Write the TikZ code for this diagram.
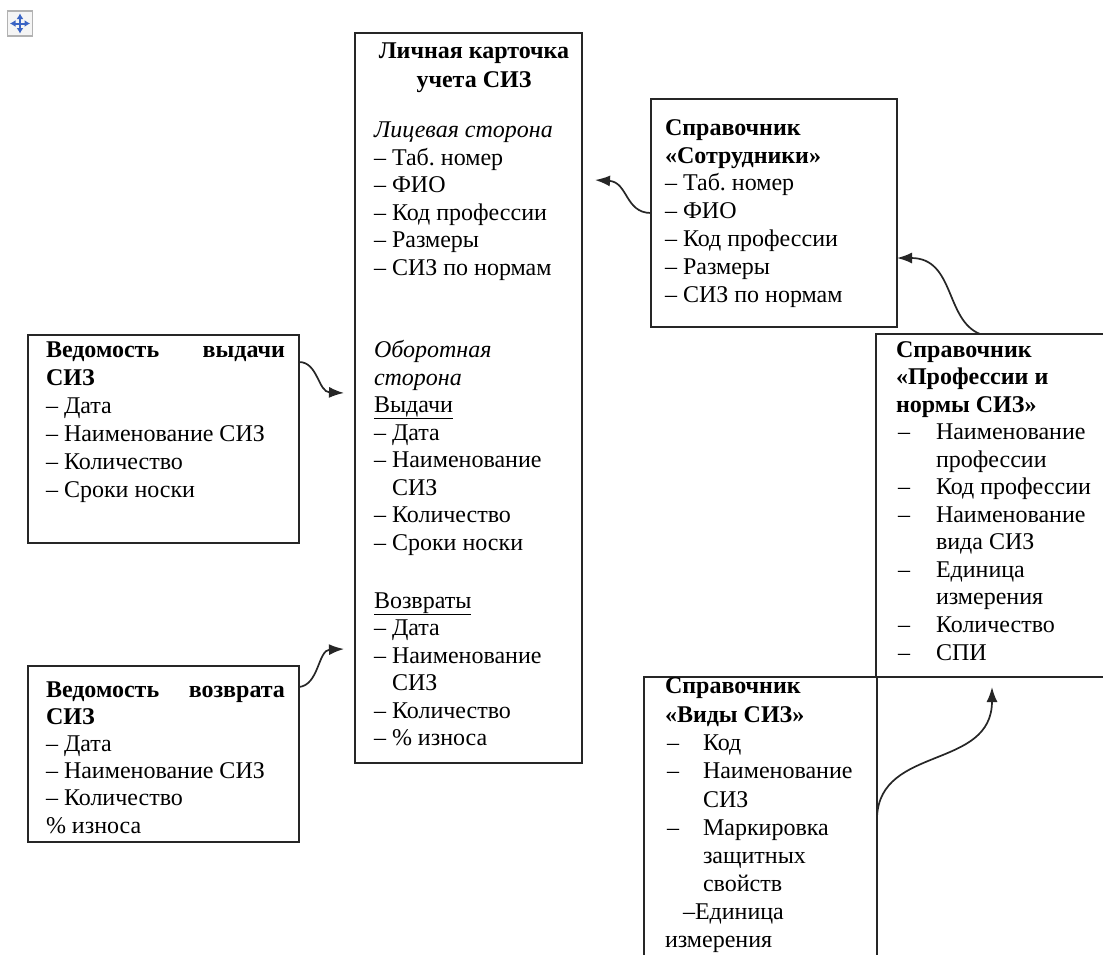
\documentclass[tikz,border=0pt]{standalone}
\usepackage{fontspec}
\setmainfont{Liberation Serif}
\usetikzlibrary{arrows.meta,calc}
\definecolor{iconblue}{RGB}{58,100,196}
\frenchspacing
\tikzset{
  box/.style={draw=black!85, line width=1.6pt, inner sep=0pt, outer sep=0pt},
  txt/.style={anchor=base west, inner sep=0pt, outer sep=0pt, font=\fontsize{24}{27.6}\selectfont},
  ttl/.style={txt, anchor=base, font=\fontsize{24}{27.6}\selectfont\bfseries},
  conn/.style={line width=1.7pt, black!85, -{Latex[length=15pt,width=11pt]}},
  iconarrow/.style={line width=2pt, iconblue, {Latex[length=5.5pt,width=7pt]}-{Latex[length=5.5pt,width=7pt]}}
}
\newcommand{\dd}[1]{\makebox[38pt][l]{–}#1}
\newcommand{\dv}[1]{\makebox[36pt][l]{–}#1}
\begin{document}
\begin{tikzpicture}[x=1pt,y=-1pt]
\useasboundingbox (0,0) rectangle (1103,954);
\clip (0,0) rectangle (1103,954);
\fill[white] (0,0) rectangle (1103,954);

% move icon
\node[draw=gray!60, fill=gray!8, line width=1.2pt, minimum size=25pt, inner sep=0pt] (icon) at (20,23.5) {};
\draw[iconarrow] ($(icon.center)+(-10,0)$) -- ($(icon.center)+(10,0)$);
\draw[iconarrow] ($(icon.center)+(0,-10)$) -- ($(icon.center)+(0,10)$);

% boxes
\node[box, minimum width=227pt, minimum height=730pt] (card) at (468.5,398) {};
\node[box, minimum width=246pt, minimum height=228pt] (sotr) at (774,213) {};
\node[box, minimum width=271pt, minimum height=208pt] (vyd) at (163.5,439) {};
\node[box, minimum width=271pt, minimum height=176pt] (vozv) at (163.5,754) {};
\node[box, minimum width=260pt, minimum height=343pt] (prof) at (1006,505.5) {};
\node[box, minimum width=233pt, minimum height=303pt] (vidy) at (760.5,828.5) {};

% card text
\node[ttl] (cardt1) at (474,58) {Личная карточка};
\node[ttl] (cardt2) at (474,87) {учета СИЗ};
\foreach \x/\y/\t [count=\i] in {
  374/137/{\itshape Лицевая сторона},
  374/165/{– Таб. номер},
  374/192/{– ФИО},
  374/220/{– Код профессии},
  374/247/{– Размеры},
  374/275/{– СИЗ по нормам},
  374/357/{\itshape Оборотная},
  374/385/{\itshape сторона},
  374/412/{\underline{Выдачи}},
  374/440/{– Дата},
  374/467/{– Наименование},
  392/495/{СИЗ},
  374/522/{– Количество},
  374/550/{– Сроки носки},
  374/608/{\underline{Возвраты}},
  374/635/{– Дата},
  374/663/{– Наименование},
  392/690/{СИЗ},
  374/718/{– Количество},
  374/745/{– \% износа}}
  \node[txt] (card-\i) at (\x,\y) {\t};

% Сотрудники
\foreach \y/\t [count=\i] in {
  135/{\bfseries Справочник},
  163/{\bfseries «Сотрудники»},
  190/{– Таб. номер},
  218/{– ФИО},
  246/{– Код профессии},
  274/{– Размеры},
  302/{– СИЗ по нормам}}
  \node[txt] (sotr-\i) at (665,\y) {\t};

% Ведомость выдачи
\foreach \y/\t [count=\i] in {
  357/{\bfseries\hbox to 239pt{Ведомость\hfill выдачи}},
  385/{\bfseries СИЗ},
  413/{– Дата},
  441/{– Наименование СИЗ},
  469/{– Количество},
  497/{– Сроки носки}}
  \node[txt] (vyd-\i) at (46,\y) {\t};

% Ведомость возврата
\foreach \y/\t [count=\i] in {
  697/{\bfseries\hbox to 239pt{Ведомость\hfill возврата}},
  724/{\bfseries СИЗ},
  751/{– Дата},
  778/{– Наименование СИЗ},
  805/{– Количество},
  833/{\% износа}}
  \node[txt] (vozv-\i) at (46,\y) {\t};

% Профессии и нормы СИЗ
\foreach \x/\y/\t [count=\i] in {
  896/357/{\bfseries Справочник},
  896/384/{\bfseries «Профессии и},
  896/412/{\bfseries нормы СИЗ»},
  898/439/{\dd{Наименование}},
  936/467/{профессии},
  898/494/{\dd{Код профессии}},
  898/522/{\dd{Наименование}},
  936/549/{вида СИЗ},
  898/577/{\dd{Единица}},
  936/604/{измерения},
  898/632/{\dd{Количество}},
  898/660/{\dd{СПИ}}}
  \node[txt] (prof-\i) at (\x,\y) {\t};

% Виды СИЗ
\foreach \x/\y/\t [count=\i] in {
  665/693/{\bfseries Справочник},
  665/722/{\bfseries «Виды СИЗ»},
  667/750/{\dv{Код}},
  667/778/{\dv{Наименование}},
  703/807/{СИЗ},
  667/835/{\dv{Маркировка}},
  703/863/{защитных},
  703/891/{свойств},
  683/919/{–Единица},
  665/947/{измерения}}
  \node[txt] (vidy-\i) at (\x,\y) {\t};

% connector end points
\coordinate (t1) at (595,180);
\coordinate (t2) at (344,393);
\coordinate (t3) at (344,649);
\coordinate (t5) at (992,687);

% connectors
\draw[conn] (sotr.west) .. controls +(-26,0) and (628,182) .. (t1);
\draw[conn] ($(vyd.north east)+(0,27)$) .. controls +(19,0) and (318,392) .. (t2);
\draw[conn] ($(vozv.north east)+(0,21)$) .. controls +(20,-2) and (318,650) .. (t3);
\draw[conn] ($(prof.north west)+(104,0)$) .. controls (945,320) and (955,258) .. ($(sotr.north east)+(0,159)$);
\draw[conn] ($(vidy.north east)+(0,140)$) .. controls +(3,-72) and (992,770) .. (t5);
\end{tikzpicture}
\end{document}
